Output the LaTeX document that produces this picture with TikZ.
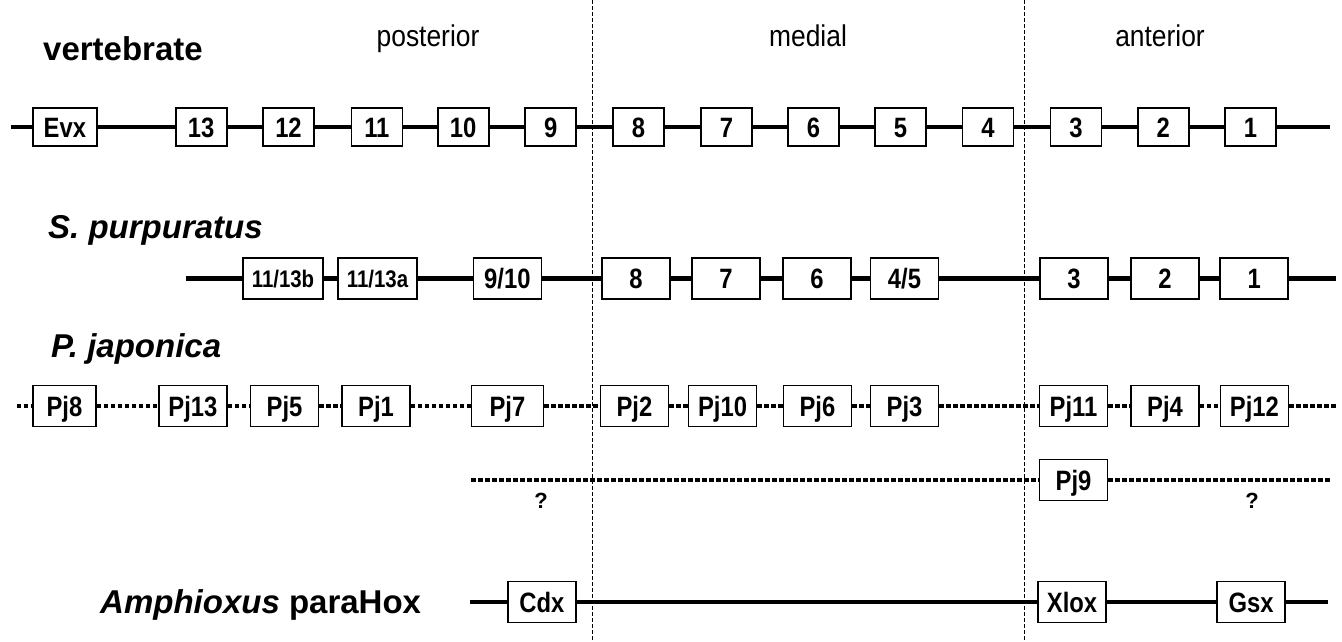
\documentclass[tikz,border=0pt]{standalone}
\usepackage{fontspec}
\setmainfont{Liberation Sans}
\newfontfamily\condfont[FakeStretch=0.85]{Liberation Sans}
\newfontfamily\narrowfont[FakeStretch=0.88]{Liberation Sans}
\begin{document}
\begin{tikzpicture}[x=1pt,y=-1pt,
  gene/.style={draw, line width=1.8pt, fill=white, inner sep=0pt,
    minimum height=38pt, minimum width=51pt, text height=20pt, text depth=0pt,
    font=\condfont\bfseries\fontsize{28}{28}\selectfont},
  tall/.style={minimum height=41pt, minimum width=68pt},
  small/.style={font=\condfont\bfseries\fontsize{24}{24}\selectfont, text height=17pt},
  backbone/.style={line width=4.5pt},
  dotline/.style={line width=4.5pt, dash pattern=on 4.5pt off 2.5pt},
  divider/.style={line width=1pt, dash pattern=on 4pt off 2pt},
  species/.style={anchor=base west, inner sep=0pt, font=\bfseries\fontsize{33}{33}\selectfont},
  region/.style={anchor=base, inner sep=0pt, font=\narrowfont\fontsize{30}{30}\selectfont},
  qmark/.style={inner sep=0pt, font=\bfseries\fontsize{22}{22}\selectfont}]
\useasboundingbox (0,0) rectangle (1342,642);

% dividers
\coordinate (d1t) at (592,0); \coordinate (d1b) at (592,642);
\coordinate (d2t) at (1024,0); \coordinate (d2b) at (1024,642);
\draw[divider] (d1t) -- (d1b);
\draw[divider] (d2t) -- (d2b);

% titles
\node[species] (tv) at (43,61) {vertebrate};
\node[region] (tpost) at (428,47) {posterior};
\node[region] (tmed) at (808,47) {medial};
\node[region] (tant) at (1160,47) {anterior};
\node[species] (ts) at (48,238) {\itshape S. purpuratus};
\node[species] (tp) at (51,357) {\itshape P. japonica};
\node[species] (ta) at (100,613) {{\itshape Amphioxus} paraHox};

% row 1 vertebrate
\node[gene, minimum width=64pt] (evx) at (64.9,127) {Evx};
\node[gene] (v13) at (201.2,127) {13};
\node[gene] (v12) at (288.5,127) {12};
\node[gene] (v11) at (376.9,127) {11};
\node[gene] (v10) at (463.2,127) {10};
\node[gene] (v9) at (550.7,127) {9};
\node[gene] (v8) at (638.4,127) {8};
\node[gene] (v7) at (726.5,127) {7};
\node[gene] (v6) at (813.4,127) {6};
\node[gene] (v5) at (900.4,127) {5};
\node[gene] (v4) at (988,127) {4};
\node[gene] (v3) at (1075.9,127) {3};
\node[gene] (v2) at (1163.2,127) {2};
\node[gene] (v1) at (1250.5,127) {1};
\coordinate (r1s) at (10.7,127); \coordinate (r1e) at (1330,127);
\draw[backbone] (r1s) -- (evx) -- (v13) -- (v12) -- (v11) -- (v10) -- (v9) -- (v8)
  -- (v7) -- (v6) -- (v5) -- (v4) -- (v3) -- (v2) -- (v1) -- (r1e);

% row 2 S. purpuratus
\node[gene, tall, small, minimum width=80pt] (s1113b) at (283,278.5) {11/13b};
\node[gene, tall, small, minimum width=79pt] (s1113a) at (377.5,278.5) {11/13a};
\node[gene, tall] (s910) at (507.4,278.5) {9/10};
\node[gene, tall] (s8) at (636,278.5) {8};
\node[gene, tall] (s7) at (726,278.5) {7};
\node[gene, tall] (s6) at (817,278.5) {6};
\node[gene, tall] (s45) at (904.5,278.5) {4/5};
\node[gene, tall] (s3) at (1074,278.5) {3};
\node[gene, tall] (s2) at (1165,278.5) {2};
\node[gene, tall] (s1) at (1254.2,278.5) {1};
\coordinate (r2s) at (186,278.5); \coordinate (r2e) at (1336,278.5);
\draw[backbone] (r2s) -- (s1113b) -- (s1113a) -- (s910) -- (s8) -- (s7) -- (s6)
  -- (s45) -- (s3) -- (s2) -- (s1) -- (r2e);

% row 3 P. japonica
\node[gene, tall, minimum width=63pt] (p8) at (64.4,406) {Pj8};
\node[gene, tall] (p13) at (192.9,406) {Pj13};
\node[gene, tall] (p5) at (284.5,406) {Pj5};
\node[gene, tall] (p1) at (376,406) {Pj1};
\node[gene, tall, minimum width=72pt] (p7) at (507.4,406) {Pj7};
\node[gene, tall] (p2) at (634.4,406) {Pj2};
\node[gene, tall] (p10) at (722.5,406) {Pj10};
\node[gene, tall] (p6) at (817.4,406) {Pj6};
\node[gene, tall] (p3) at (904.5,406) {Pj3};
\node[gene, tall] (p11) at (1073.5,406) {Pj11};
\node[gene, tall] (p4) at (1165,406) {Pj4};
\node[gene, tall] (p12) at (1254.4,406) {Pj12};
\coordinate (r3s) at (16.7,406); \coordinate (r3e) at (1336,406);
\draw[dotline] (r3s) -- (p8) -- (p13) -- (p5) -- (p1) -- (p7) -- (p2) -- (p10)
  -- (p6) -- (p3) -- (p11) -- (p4) -- (p12) -- (r3e);

% row 4 Pj9
\node[gene, tall] (p9) at (1073.5,480) {Pj9};
\coordinate (r4s) at (471,480); \coordinate (r4e) at (1331,480);
\draw[dotline] (r4s) -- (p9) -- (r4e);
\node[qmark] (q1) at (541,501) {?};
\node[qmark] (q2) at (1252,501) {?};

% row 5 paraHox
\node[gene, tall] (cdx) at (541.9,602) {Cdx};
\node[gene, tall] (xlox) at (1072,602) {Xlox};
\node[gene, tall] (gsx) at (1251,602) {Gsx};
\coordinate (r5s) at (470,602); \coordinate (r5e) at (1328,602);
\draw[backbone] (r5s) -- (cdx) -- (xlox) -- (gsx) -- (r5e);
\end{tikzpicture}
\end{document}
